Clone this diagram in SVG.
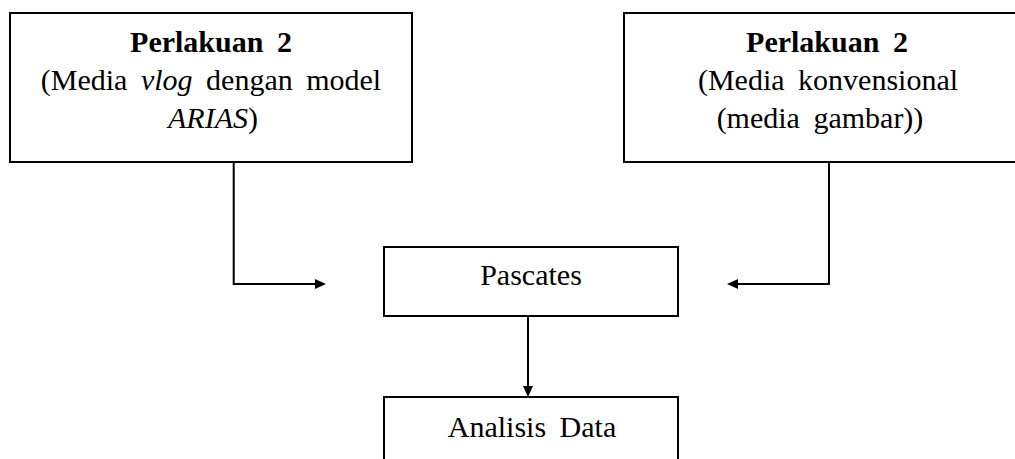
<svg xmlns="http://www.w3.org/2000/svg" width="1015" height="459" viewBox="0 0 1015 459">
  <style>
    .box { fill: #fff; stroke: #000; stroke-width: 2; }
    .t { font-family: "Liberation Serif", "Times New Roman", serif; font-size: 30px; fill: #000; text-anchor: middle; word-spacing: 6px; }
    .b { font-weight: bold; }
    .i { font-style: italic; }
    .conn { fill: none; stroke: #000; stroke-width: 2; }
  </style>
  <defs>
    <marker id="arrow" markerUnits="userSpaceOnUse" markerWidth="12" markerHeight="10" refX="5" refY="5" orient="auto">
      <path d="M0,0 L11,5 L0,10 Z" fill="#000"/>
    </marker>
  </defs>
  <rect width="1015" height="459" fill="#fff"/>

  <g id="node-perlakuan-vlog">
    <rect class="box" x="10" y="13" width="402" height="149"/>
    <text class="t b" x="211" y="52">Perlakuan 2</text>
    <text class="t" x="211" y="90">(Media <tspan class="i">vlog</tspan> dengan model</text>
    <text class="t" x="213" y="128"><tspan class="i">ARIAS</tspan>)</text>
  </g>

  <g id="node-perlakuan-konvensional">
    <rect class="box" x="624" y="13" width="420" height="149"/>
    <text class="t b" x="827" y="52">Perlakuan 2</text>
    <text class="t" x="828" y="90">(Media konvensional</text>
    <text class="t" x="820" y="128">(media gambar))</text>
  </g>

  <g id="node-pascates">
    <rect class="box" x="384" y="247" width="294" height="69"/>
    <text class="t" x="531" y="285">Pascates</text>
  </g>

  <g id="node-analisis">
    <rect class="box" x="384" y="397" width="294" height="80"/>
    <text class="t" x="532" y="437">Analisis Data</text>
  </g>

  <g id="connectors">
    <path class="conn" d="M233.7,162 V284 H320" marker-end="url(#arrow)"/>
    <path class="conn" d="M829,162 V284 H733" marker-end="url(#arrow)"/>
    <path class="conn" d="M528,316 V391" marker-end="url(#arrow)"/>
  </g>
</svg>
